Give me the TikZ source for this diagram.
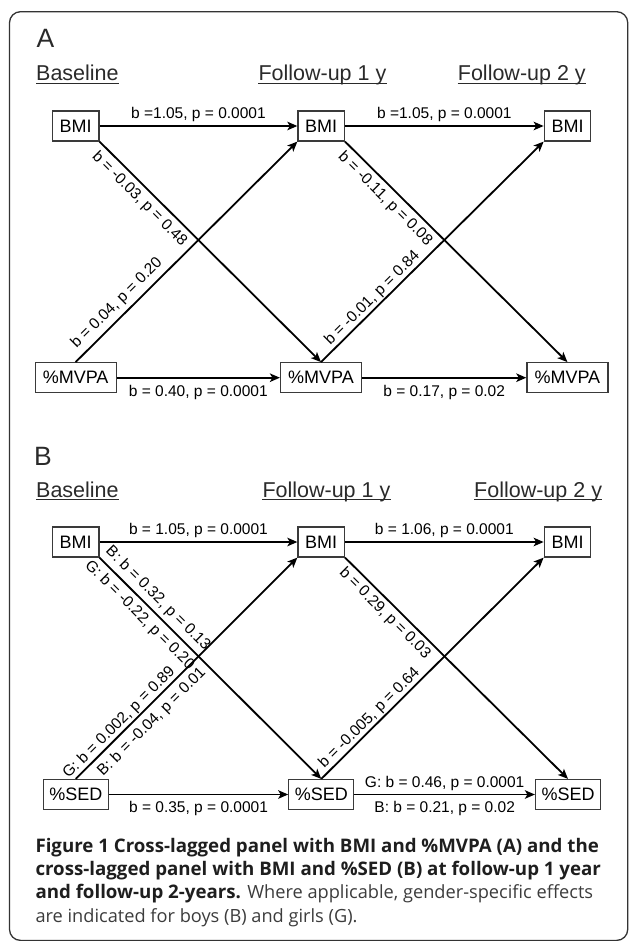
\documentclass[tikz,border=0pt]{standalone}
\usepackage{fontspec}
\setmainfont{Liberation Sans}
\newfontfamily\capfont{Open Sans}
\usetikzlibrary{arrows.meta}
\definecolor{framec}{HTML}{333333}
\definecolor{boxc}{HTML}{3A3A3A}
\definecolor{headc}{HTML}{2A2A2A}
\definecolor{capb}{HTML}{1E1E1E}
\definecolor{capr}{HTML}{3C3C3C}
\newcommand\capbold[1]{{\fontsize{18.7}{23}\selectfont\bfseries\color{capb}#1}}
\begin{document}
\begin{tikzpicture}[x=1pt,y=-1pt,
  box/.style={draw=boxc, line width=1.2pt, fill=white, inner xsep=6pt, inner ysep=0pt,
    minimum height=30pt, font=\fontsize{18}{20}\selectfont, text=black},
  bmi/.style={box, minimum width=46.5pt},
  mvpa/.style={box, minimum width=81pt},
  sed/.style={box, minimum width=65pt},
  lab/.style={font=\fontsize{15.5}{18}\selectfont, text=black, inner sep=3pt},
  dlab/.style={lab, sloped},
  arr/.style={line width=1.8pt, draw=black, -{Stealth[length=10pt,width=8.5pt,inset=2.5pt]}},
  head/.style={font=\fontsize{21.5}{24}\selectfont, inner sep=0pt, anchor=base west, text=headc},
  ul/.style={line width=1.3pt, draw=headc},
  plet/.style={font=\fontsize{26.5}{28}\selectfont, inner sep=0pt, anchor=base west, text=headc},
  capl/.style={font=\capfont\fontsize{18.2}{23}\selectfont, inner sep=0pt, anchor=base west, text=capr},
]
\useasboundingbox (0,0) rectangle (629,941);
% outer frame
\draw[framec, line width=1.3pt, rounded corners=11pt] (9.5,11.7) rectangle (627.7,940.4);

% ---------------- Panel A ----------------
\node[plet] (letA) at (36.5,47.5) {A};
\node[head] (hA0) at (36,81) {Baseline};
\node[head] (hA1) at (258.3,81) {Follow-up 1 y};
\node[head] (hA2) at (457.7,81) {Follow-up 2 y};
\foreach \h in {hA0,hA1,hA2} \draw[ul] ([yshift=-2.4pt]\h.base west) -- ([yshift=-2.4pt]\h.base east);

\node[bmi] (bA1) at (75.7,126) {BMI};
\node[bmi] (bA2) at (321.2,126) {BMI};
\node[bmi] (bA3) at (567.5,126) {BMI};
\node[mvpa] (mA1) at (75.6,377.7) {\%MVPA};
\node[mvpa] (mA2) at (321,377.7) {\%MVPA};
\node[mvpa] (mA3) at (567.4,377.7) {\%MVPA};

\draw[arr] (bA1) -- node[lab, above] {b =1.05, p = 0.0001} (bA2);
\draw[arr] (bA2) -- node[lab, above] {b =1.05, p = 0.0001} (bA3);
\draw[arr] (mA1) -- node[lab, below, inner sep=7pt] {b = 0.40, p = 0.0001} (mA2);
\draw[arr] (mA2) -- node[lab, below, inner sep=7pt] {b = 0.17, p = 0.02} (mA3);

\draw[arr] (bA1.south east) -- node[dlab, below, pos=0.22, inner sep=4.5pt] {b = -0.03, p = 0.48} (mA2.north);
\draw[arr] (mA1.north) -- node[dlab, above, pos=0.226, inner sep=4.5pt] {b = 0.04, p = 0.20} (bA2.south west);
\draw[arr] (bA2.south east) -- node[dlab, below, pos=0.22, inner sep=4.5pt] {b = -0.11, p = 0.08} (mA3.north);
\draw[arr] (mA2.north) -- node[dlab, above, pos=0.26, inner sep=1pt] {b = -0.01, p = 0.84} (bA3.south west);

% ---------------- Panel B ----------------
\node[plet] (letB) at (34,465) {B};
\node[head] (hB0) at (36,497.3) {Baseline};
\node[head] (hB1) at (262.3,497.3) {Follow-up 1 y};
\node[head] (hB2) at (474,497.3) {Follow-up 2 y};
\foreach \h in {hB0,hB1,hB2} \draw[ul] ([yshift=-2.4pt]\h.base west) -- ([yshift=-2.4pt]\h.base east);

\node[bmi] (bB1) at (75.7,542) {BMI};
\node[bmi] (bB2) at (321.2,542) {BMI};
\node[bmi] (bB3) at (567.5,542) {BMI};
\node[sed] (sB1) at (75.8,794.5) {\%SED};
\node[sed] (sB2) at (321.3,794.5) {\%SED};
\node[sed] (sB3) at (568,794.5) {\%SED};

\draw[arr] (bB1) -- node[lab, above] {b = 1.05, p = 0.0001} (bB2);
\draw[arr] (bB2) -- node[lab, above] {b = 1.06, p = 0.0001} (bB3);
\draw[arr] (sB1) -- node[lab, below, inner sep=6pt] {b = 0.35, p = 0.0001} (sB2);
\draw[arr] (sB2) -- node[lab, above] {G: b = 0.46, p = 0.0001}
                    node[lab, below, inner sep=6pt] {B: b = 0.21, p = 0.02} (sB3);

\draw[arr] (bB1.south east) -- node[dlab, above, pos=0.224, inner sep=4pt] {B: b = 0.32, p = 0.13}
                              node[dlab, below, pos=0.22, inner sep=4.5pt] {G: b = -0.22, p = 0.20} (sB2.north);
\draw[arr] (sB1.north) -- node[dlab, above, pos=0.225, inner sep=1pt] {G: b = 0.002, p = 0.89}
                          node[dlab, below, pos=0.30, inner sep=5.5pt] {B: b = -0.04, p = 0.01} (bB2.south west);
\draw[arr] (bB2.south east) -- node[dlab, below, pos=0.215, inner sep=3.5pt] {b = 0.29, p = 0.03} (sB3.north);
\draw[arr] (sB2.north) -- node[dlab, above, pos=0.246, inner sep=1pt] {b = -0.005, p = 0.64} (bB3.south west);

% ---------------- Caption ----------------
\node[capl] (c1) at (35.3,852.3) {\capbold{Figure 1 Cross-lagged panel with BMI and \%MVPA (A) and the}};
\node[capl] (c2) at (35.3,875.6) {\capbold{cross-lagged panel with BMI and \%SED (B) at follow-up 1 year}};
\node[capl] (c3) at (35.3,898.9) {\capbold{and follow-up 2-years.} Where applicable, gender-specific effects};
\node[capl] (c4) at (35.3,922.2) {are indicated for boys (B) and girls (G).};
\end{tikzpicture}
\end{document}
